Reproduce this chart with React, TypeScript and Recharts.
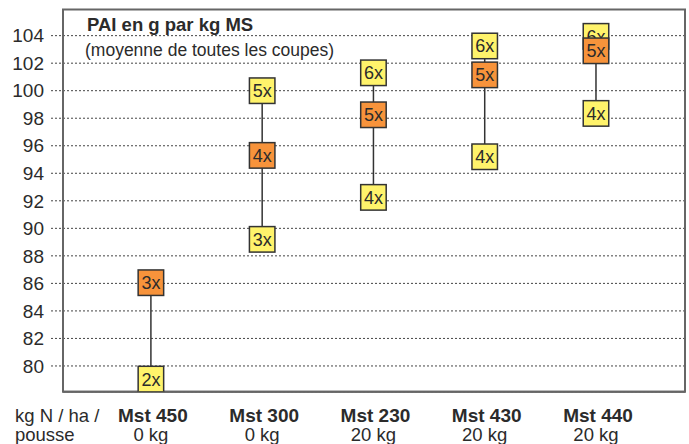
import React from 'react';
import {
  ComposedChart,
  XAxis,
  YAxis,
  CartesianGrid,
  Scatter,
  ReferenceLine,
  ReferenceArea,
  Customized,
} from 'recharts';

const categories = ['Mst 450', 'Mst 300', 'Mst 230', 'Mst 430', 'Mst 440'];
const nitrogen = ['0 kg', '0 kg', '20 kg', '20 kg', '20 kg'];

const topValues: (number | null)[] = [null, 100.0, 101.3, 103.25, 103.95];
const topLabels: (string | null)[] = [null, '5x', '6x', '6x', '6x'];
const midValues = [86.05, 95.3, 98.25, 101.15, 102.9];
const midLabels = ['3x', '4x', '5x', '5x', '5x'];
const lowValues = [79.05, 89.2, 92.25, 95.2, 98.35];
const lowLabels = ['2x', '3x', '4x', '4x', '4x'];

const yTicks = [80, 82, 84, 86, 88, 90, 92, 94, 96, 98, 100, 102, 104];
const xTicks = [0, 1, 2, 3, 4];

const Y_DOMAIN: [number, number] = [78.13, 105.9];
const X_DOMAIN: [number, number] = [-0.79, 4.8];

const FONT = '"Liberation Sans", Arial, sans-serif';
const YELLOW = '#FFF36B';
const ORANGE = '#F7933B';
const BORDER = '#333333';
const TEXT = '#2b2b2b';

const yellowData = [
  ...topValues
    .map((v, i) => (v == null ? null : { x: i, y: v, label: topLabels[i] }))
    .filter((d) => d != null),
  ...lowValues.map((v, i) => ({ x: i, y: v, label: lowLabels[i] })),
];
const orangeData = midValues.map((v, i) => ({ x: i, y: v, label: midLabels[i] }));

const makeBox = (fill: string) => (props: any) => {
  const { cx, cy, payload } = props;
  if (cx == null || cy == null) return null;
  const s = 25.5;
  return (
    <g>
      <rect
        x={cx - s / 2}
        y={cy - s / 2}
        width={s}
        height={s}
        fill={fill}
        stroke={BORDER}
        strokeWidth={1.5}
      />
      <text
        x={cx}
        y={cy + 6.5}
        textAnchor="middle"
        fontSize={18}
        fontFamily={FONT}
        fill={TEXT}
      >
        {payload.label}
      </text>
    </g>
  );
};

const CatTick = (props: any) => {
  const { x, payload } = props;
  const i = payload.value as number;
  return (
    <g>
      <text
        x={x + 2}
        y={422}
        textAnchor="middle"
        fontSize={19}
        fontWeight="bold"
        fontFamily={FONT}
        fill={TEXT}
      >
        {categories[i]}
      </text>
      <text
        x={x}
        y={441}
        textAnchor="middle"
        fontSize={18.5}
        fontFamily={FONT}
        fill={TEXT}
      >
        {nitrogen[i]}
      </text>
    </g>
  );
};

const Texts = () => (
  <g fontFamily={FONT} fill={TEXT}>
    <text x={87} y={31} fontSize={18.5} fontWeight="bold">
      PAI en g par kg MS
    </text>
    <text x={85} y={56} fontSize={17.5}>
      (moyenne de toutes les coupes)
    </text>
    <text x={15} y={422} fontSize={18.5}>
      kg N / ha /
    </text>
    <text x={15} y={441} fontSize={18.5}>
      pousse
    </text>
  </g>
);

export default function App() {
  return (
    <div style={{ position: 'absolute', left: 0, top: 0, background: '#fff' }}>
      <ComposedChart
        width={689}
        height={444}
        margin={{ top: 9.5, right: 4, bottom: 0, left: 0 }}
      >
        <CartesianGrid
          horizontal
          vertical={false}
          stroke="#444"
          strokeDasharray="2 2"
          strokeWidth={1}
        />
        <XAxis
          type="number"
          dataKey="x"
          domain={X_DOMAIN}
          ticks={xTicks}
          allowDataOverflow
          interval={0}
          height={52.3}
          tickLine={false}
          axisLine={{ stroke: '#666', strokeWidth: 2 }}
          tick={<CatTick />}
        />
        <YAxis
          type="number"
          dataKey="y"
          domain={Y_DOMAIN}
          ticks={yTicks}
          allowDataOverflow
          interval={0}
          width={63}
          tickSize={12}
          tickMargin={7}
          tickLine={{ stroke: '#444', strokeDasharray: '2 2' }}
          axisLine={{ stroke: '#666', strokeWidth: 2 }}
          tick={{ fill: TEXT, fontSize: 19, fontFamily: FONT }}
        />
        <ReferenceArea
          x1={X_DOMAIN[0]}
          x2={X_DOMAIN[1]}
          y1={Y_DOMAIN[0]}
          y2={Y_DOMAIN[1]}
          fill="none"
          fillOpacity={0}
          stroke="#666"
          strokeWidth={2}
          ifOverflow="visible"
        />
        {categories.map((c, i) => {
          const top = Math.max(topValues[i] ?? -Infinity, midValues[i]);
          return (
            <ReferenceLine
              key={c}
              segment={[
                { x: i, y: lowValues[i] },
                { x: i, y: top },
              ]}
              stroke="#333"
              strokeWidth={1.5}
              ifOverflow="visible"
            />
          );
        })}
        <Scatter
          data={yellowData}
          dataKey="y"
          shape={makeBox(YELLOW)}
          isAnimationActive={false}
        />
        <Scatter
          data={orangeData}
          dataKey="y"
          shape={makeBox(ORANGE)}
          isAnimationActive={false}
        />
        <Customized component={Texts} />
      </ComposedChart>
    </div>
  );
}
